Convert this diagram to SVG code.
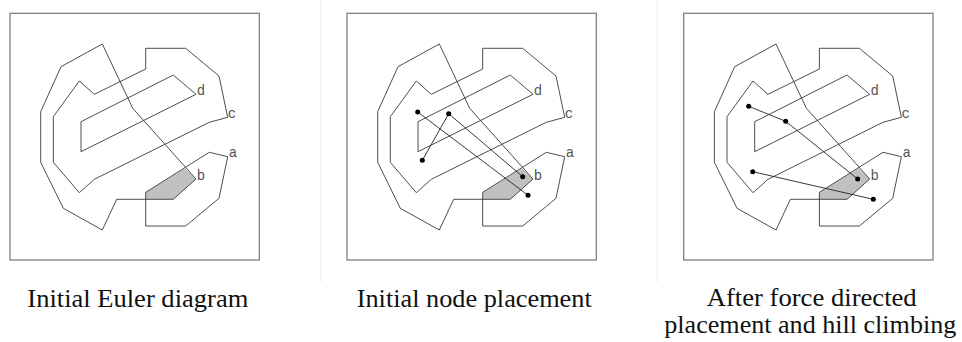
<svg xmlns="http://www.w3.org/2000/svg" width="962" height="342" viewBox="0 0 962 342">
<style>
.frame{fill:#fff;stroke:#808080;stroke-width:1.3}
.set{fill:none;stroke:#3a3a3a;stroke-width:0.9;stroke-linejoin:miter}
.zone{fill:#c0c0c0;stroke:none}
.lbl{font-family:"Liberation Mono","DejaVu Sans Mono",monospace;font-size:14px;fill:#555}
.edge{fill:none;stroke:#222;stroke-width:0.9}
.node{fill:#000}
.cap{font-family:"Liberation Serif","Times New Roman",serif;font-size:26px;fill:#111}
.sep{stroke:#ececec;stroke-width:1}
</style>
<defs>
<g id="euler">
<rect class="frame" x="10" y="13.3" width="249.3" height="246.7"/>
<polygon class="zone" points="145.7,192.3 185,168.3 196,179 173.3,199.3 145.7,199.3"/>
<polygon class="set" points="102.3,44 61,66.7 40.7,111.7 40.7,162.3 63.3,208.3 102.3,230 116.7,199.3 173.3,199.3 196,179 132.7,108.3"/>
<polygon class="set" points="145.7,48.3 185.7,48.3 219,76 227.7,117.3 209.3,122.3 94.3,179.3 79.3,192.7 53.3,162.3 53.3,116.7 79.3,81 94.3,94.3 145.7,69"/>
<polygon class="set" points="173.3,75 196,94.3 81,151.7 81,121.7"/>
<polygon class="set" points="209.3,152.3 227.7,156.7 219,198.3 185.7,226 145.7,226 145.7,192.3"/>
<text class="lbl" x="196.7" y="95">d</text>
<text class="lbl" x="227.7" y="117.5">c</text>
<text class="lbl" x="228.7" y="157">a</text>
<text class="lbl" x="196.7" y="180">b</text>
</g>
</defs>
<line class="sep" x1="320.7" y1="0" x2="320.7" y2="282"/>
<line class="sep" x1="657.3" y1="0" x2="657.3" y2="282"/>
<g id="panel1">
<use href="#euler"/>
</g>
<g id="panel2" transform="translate(337,0)">
<use href="#euler"/>
<g id="edges2">
<line class="edge" x1="80.7" y1="112" x2="191" y2="195.3"/>
<line class="edge" x1="111.7" y1="113.7" x2="185.7" y2="176.7"/>
<line class="edge" x1="111.7" y1="113.7" x2="85.3" y2="160.3"/>
</g>
<g id="nodes2">
<circle class="node" cx="80.7" cy="112" r="2.5"/>
<circle class="node" cx="111.7" cy="113.7" r="2.5"/>
<circle class="node" cx="85.3" cy="160.3" r="2.5"/>
<circle class="node" cx="185.7" cy="176.7" r="2.5"/>
<circle class="node" cx="191" cy="195.3" r="2.5"/>
</g>
</g>
<g id="panel3" transform="translate(673.7,0)">
<use href="#euler"/>
<g id="edges3">
<polyline class="edge" points="75,106.3 112,121.3 184,179"/>
<line class="edge" x1="79" y1="171.7" x2="199.6" y2="199.3"/>
</g>
<g id="nodes3">
<circle class="node" cx="75" cy="106.3" r="2.5"/>
<circle class="node" cx="112" cy="121.3" r="2.5"/>
<circle class="node" cx="79" cy="171.7" r="2.5"/>
<circle class="node" cx="184" cy="179" r="2.5"/>
<circle class="node" cx="199.6" cy="199.3" r="2.5"/>
</g>
</g>
<g id="captions">
<text class="cap" x="27.3" y="307" textLength="221" lengthAdjust="spacingAndGlyphs">Initial Euler diagram</text>
<text class="cap" x="356.7" y="307" textLength="235" lengthAdjust="spacingAndGlyphs">Initial node placement</text>
<text class="cap" x="706.7" y="306" textLength="210" lengthAdjust="spacingAndGlyphs">After force directed</text>
<text class="cap" x="664.3" y="332.5" textLength="292" lengthAdjust="spacingAndGlyphs">placement and hill climbing</text>
</g>
</svg>
